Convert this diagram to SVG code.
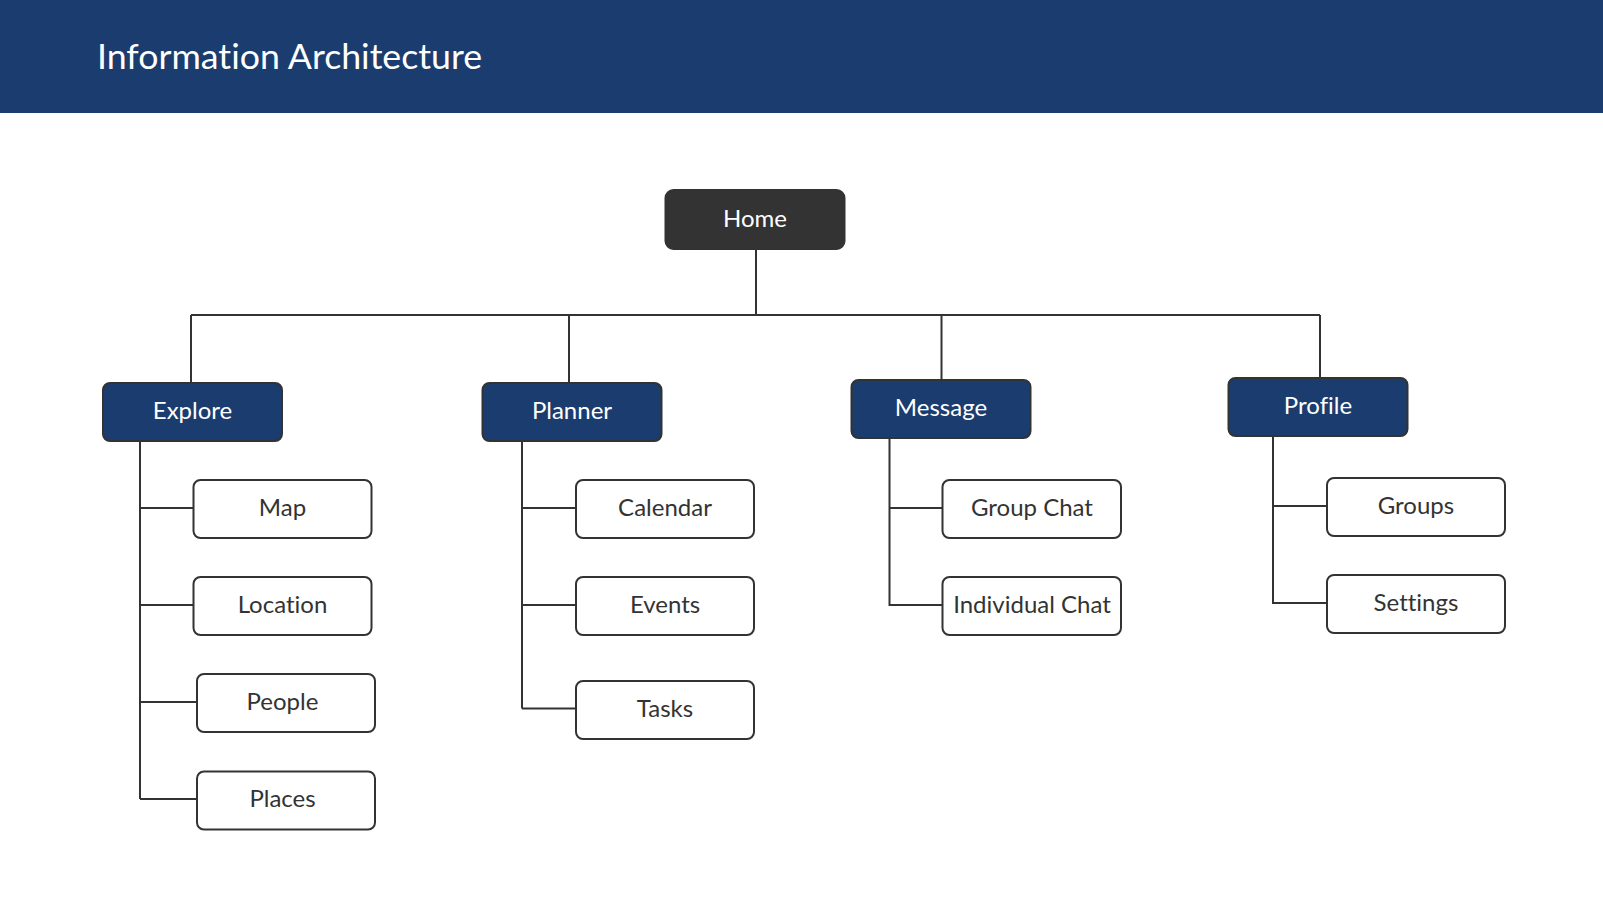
<svg xmlns="http://www.w3.org/2000/svg" width="1603" height="922" viewBox="0 0 1603 922">
<style>
text{font-variant-ligatures:none}
.t{font-family:"Lato","Open Sans","Liberation Sans",sans-serif;font-size:24px;text-anchor:middle}
.lt{fill:#ffffff}
.dk{fill:#333333}
.box{fill:#ffffff;stroke:#333333;stroke-width:2}
.nav{fill:#1b3c6f;stroke:#333333;stroke-width:2}
.home{fill:#333333;stroke:#333333;stroke-width:2}
.ln{fill:none;stroke:#333333;stroke-width:2}
</style>
<rect x="0" y="0" width="1603" height="922" fill="#ffffff"/>
<g id="header">
<rect x="0" y="0" width="1603" height="113" fill="#1b3c6f"/>
<text x="97" y="69" style="font-family:'Lato','Open Sans','Liberation Sans',sans-serif;font-size:35.7px;fill:#ffffff">Information Architecture</text>
</g>
<g id="connectors">
<path class="ln" d="M756 249V315M191 315H1320M191 315V383M569 315V383M941.5 315V380M1320 315V378"/>
<path class="ln" d="M140 441V799M140 508H193.5M140 605H193.5M140 702H197M140 799H197"/>
<path class="ln" d="M522 441V708.5M522 508H576.5M522 605H576.5M522 708.5H576.5"/>
<path class="ln" d="M889.5 438V605H942.5M889.5 508H942.5"/>
<path class="ln" d="M1273 436V603H1327M1273 506H1327"/>
</g>
<g id="home"><rect class="home" x="665.5" y="190" width="179" height="59" rx="8"/><text class="t lt" x="755" y="226.5">Home</text></g>
<g id="explore"><rect class="nav" x="103" y="383" width="179" height="58" rx="7"/><text class="t lt" x="192.5" y="419">Explore</text></g>
<g id="planner"><rect class="nav" x="482.5" y="383" width="179" height="58" rx="7"/><text class="t lt" x="572" y="419">Planner</text></g>
<g id="message"><rect class="nav" x="851.5" y="380" width="179" height="58" rx="7"/><text class="t lt" x="941" y="416">Message</text></g>
<g id="profile"><rect class="nav" x="1228.5" y="378" width="179" height="58" rx="7"/><text class="t lt" x="1318" y="414">Profile</text></g>
<g id="map"><rect class="box" x="193.5" y="480" width="178" height="58" rx="7"/><text class="t dk" x="282.5" y="515.5">Map</text></g>
<g id="location"><rect class="box" x="193.5" y="577" width="178" height="58" rx="7"/><text class="t dk" x="282.5" y="612.5">Location</text></g>
<g id="people"><rect class="box" x="197" y="674" width="178" height="58" rx="7"/><text class="t dk" x="282.5" y="709.5">People</text></g>
<g id="places"><rect class="box" x="197" y="771.5" width="178" height="58" rx="7"/><text class="t dk" x="282.5" y="807">Places</text></g>
<g id="calendar"><rect class="box" x="576" y="480" width="178" height="58" rx="7"/><text class="t dk" x="665" y="515.5">Calendar</text></g>
<g id="events"><rect class="box" x="576" y="577" width="178" height="58" rx="7"/><text class="t dk" x="665" y="612.5">Events</text></g>
<g id="tasks"><rect class="box" x="576" y="681" width="178" height="58" rx="7"/><text class="t dk" x="665" y="716.5">Tasks</text></g>
<g id="group-chat"><rect class="box" x="942.5" y="480" width="178.5" height="58" rx="7"/><text class="t dk" x="1032" y="515.5">Group Chat</text></g>
<g id="individual-chat"><rect class="box" x="942.5" y="577" width="178.5" height="58" rx="7"/><text class="t dk" x="1032" y="612.5">Individual Chat</text></g>
<g id="groups"><rect class="box" x="1327" y="478" width="178" height="58" rx="7"/><text class="t dk" x="1416" y="513.5">Groups</text></g>
<g id="settings"><rect class="box" x="1327" y="575" width="178" height="58" rx="7"/><text class="t dk" x="1416" y="610.5">Settings</text></g>
</svg>
